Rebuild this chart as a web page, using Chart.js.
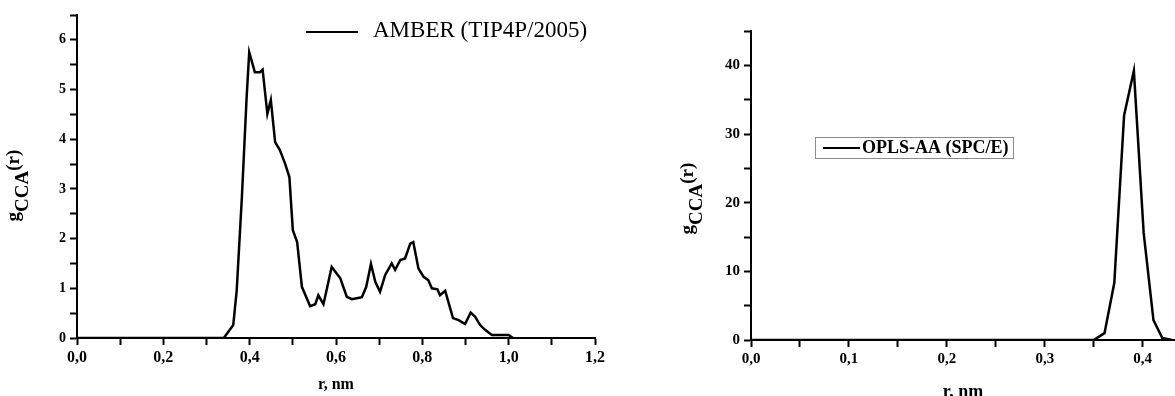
<!DOCTYPE html>
<html>
<head>
<meta charset="utf-8">
<script src="https://cdn.jsdelivr.net/npm/chart.js@4.4.1/dist/chart.umd.min.js"></script>
<style>
  html, body { margin: 0; padding: 0; background: #fff; overflow: hidden; }
  #left { position: absolute; left: 0; top: 0; width: 610px; height: 396px; }
  #right { position: absolute; left: 680px; top: 0; width: 495px; height: 396px; }
</style>
</head>
<body>
<div id="left"><canvas id="amberChart"></canvas></div>
<div id="right"><canvas id="oplsChart"></canvas></div>
<script>
// AMBER (TIP4P/2005) g_CCA(r)
const amberR = [0, 0.34, 0.351, 0.362, 0.37, 0.382, 0.393, 0.399, 0.412, 0.424, 0.430, 0.441, 0.449, 0.459, 0.470,
  0.482, 0.492, 0.500, 0.510, 0.521, 0.540, 0.552, 0.559, 0.571, 0.590, 0.610, 0.625, 0.637, 0.648, 0.660,
  0.670, 0.681, 0.691, 0.702, 0.714, 0.729, 0.737, 0.749, 0.760, 0.772, 0.779, 0.791, 0.803, 0.814, 0.822,
  0.835, 0.841, 0.853, 0.871, 0.884, 0.899, 0.912, 0.922, 0.934, 0.946, 0.961, 0.980, 1.000, 1.010];
const amberG = [0, 0, 0.13, 0.26, 0.96, 2.84, 4.85, 5.75, 5.35, 5.35, 5.40, 4.51, 4.79, 3.94, 3.78,
  3.51, 3.24, 2.17, 1.93, 1.03, 0.64, 0.68, 0.86, 0.68, 1.43, 1.20, 0.83, 0.78, 0.80, 0.82,
  1.03, 1.49, 1.13, 0.93, 1.27, 1.50, 1.37, 1.57, 1.60, 1.90, 1.93, 1.40, 1.23, 1.16, 1.00,
  0.98, 0.86, 0.95, 0.40, 0.36, 0.28, 0.51, 0.43, 0.26, 0.16, 0.06, 0.06, 0.06, 0];

// OPLS-AA (SPC/E) g_CCA(r), right panel
const oplsR = [0, 0.35, 0.361, 0.371, 0.381, 0.391, 0.401, 0.411, 0.42, 0.43];
const oplsG = [0, 0, 1.0, 8.3, 32.7, 39.2, 15.6, 2.9, 0.3, 0];

const amberLabel = 'AMBER (TIP4P/2005)';
const oplsLabel = 'OPLS-AA (SPC/E)';
const xTitle = 'r, nm';
const yTitleParts = ['g', 'CCA', '(r)'];

const SERIF = "'Liberation Serif', 'Times New Roman', serif";

function toPoints(xs, ys) {
    return xs.map((x, i) => ({ x: x, y: ys[i] }));
}

// comma decimal like the original figure
function commaLabel(v, digits) {
    return v.toFixed(digits).replace('.', ',');
}

// rotated "g_CCA(r)" with a subscript
const gLabelPlugin = {
    id: 'gLabel',
    afterDraw(chart, args, opts) {
        const ctx = chart.ctx;
        const area = chart.chartArea;
        const cy = (area.top + area.bottom) / 2 + opts.dy;
        ctx.save();
        ctx.font = 'bold ' + opts.size + 'px ' + SERIF;
        ctx.fillStyle = '#000';
        ctx.textBaseline = 'alphabetic';
        const widths = yTitleParts.map(t => ctx.measureText(t).width);
        const total = widths.reduce((a, b) => a + b, 0);
        ctx.translate(opts.x, cy);
        ctx.rotate(-Math.PI / 2);
        let pos = -total / 2;
        yTitleParts.forEach((t, i) => {
            ctx.fillText(t, pos, i === 1 ? opts.sub : 0);
            pos += widths[i];
        });
        ctx.restore();
    }
};

// simple legend placed where the original has it
const placedLegendPlugin = {
    id: 'placedLegend',
    afterDraw(chart, args, opts) {
        const ctx = chart.ctx;
        const ds = chart.data.datasets[0];
        ctx.save();
        if (opts.box) {
            ctx.strokeStyle = '#8a8a8a';
            ctx.lineWidth = 1;
            ctx.strokeRect(opts.box[0] + 0.5, opts.box[1] + 0.5, opts.box[2], opts.box[3]);
        }
        ctx.strokeStyle = ds.borderColor;
        ctx.lineWidth = 2;
        ctx.beginPath();
        ctx.moveTo(opts.line[0], opts.line[2]);
        ctx.lineTo(opts.line[1], opts.line[2]);
        ctx.stroke();
        ctx.font = opts.font;
        ctx.fillStyle = '#000';
        ctx.textBaseline = 'middle';
        ctx.fillText(ds.label, opts.textX, opts.textY);
        ctx.restore();
    }
};

function makeChart(id, cfg) {
    return new Chart(document.getElementById(id), {
        type: 'line',
        data: {
            datasets: [{
                label: cfg.label,
                data: toPoints(cfg.xs, cfg.ys),
                borderColor: '#000',
                borderWidth: 2.5,
                pointRadius: 0,
                tension: 0,
                fill: false
            }]
        },
        options: {
            animation: false,
            responsive: true,
            maintainAspectRatio: false,
            layout: { padding: { top: cfg.padTop, right: cfg.padRight, left: 0, bottom: 0 } },
            plugins: {
                legend: { display: false },
                tooltip: { enabled: false },
                gLabel: cfg.gLabel,
                placedLegend: cfg.legend
            },
            scales: {
                x: {
                    type: 'linear',
                    min: 0,
                    max: cfg.xMax,
                    afterFit: s => { s.height = cfg.xHeight; },
                    ticks: {
                        stepSize: cfg.xStep / 2,
                        includeBounds: false,
                        autoSkip: false,
                        maxRotation: 0,
                        color: '#000',
                        padding: 3,
                        font: { family: SERIF, size: cfg.xTickSize, weight: 'bold' },
                        callback: v => Math.round(v / (cfg.xStep / 2)) % 2 === 0 ? commaLabel(v, 1) : ''
                    },
                    grid: { drawOnChartArea: false, drawTicks: true, tickLength: 7, tickColor: '#000', tickWidth: 2 },
                    border: { display: true, color: '#000', width: 2 },
                    title: {
                        display: true,
                        text: xTitle,
                        color: '#000',
                        font: { family: SERIF, size: cfg.xTitleSize, weight: 'bold' },
                        padding: { top: 0, bottom: cfg.xTitlePad }
                    }
                },
                y: {
                    type: 'linear',
                    min: 0,
                    max: cfg.yMax,
                    afterFit: s => { s.width = cfg.yWidth; },
                    ticks: {
                        stepSize: cfg.yStep / 2,
                        autoSkip: false,
                        color: '#000',
                        padding: 4,
                        font: { family: SERIF, size: cfg.yTickSize, weight: 'bold' },
                        callback: v => Math.round(v / (cfg.yStep / 2)) % 2 === 0 ? String(v) : ''
                    },
                    grid: { drawOnChartArea: false, drawTicks: true, tickLength: 7, tickColor: '#000', tickWidth: 2 },
                    border: { display: true, color: '#000', width: 2 }
                }
            }
        },
        plugins: [gLabelPlugin, placedLegendPlugin]
    });
}

makeChart('amberChart', {
    label: amberLabel,
    xs: amberR, ys: amberG,
    xMax: 1.2, xStep: 0.2,
    yMax: 6.5, yStep: 1,
    padTop: 15, padRight: 15,
    xHeight: 58, yWidth: 77,
    xTickSize: 16, yTickSize: 14, xTitleSize: 16, xTitlePad: 2,
    gLabel: { x: 19, dy: 9, size: 19, sub: 9 },
    legend: { line: [306, 358, 32], textX: 373, textY: 31, font: '23px ' + SERIF }
});

makeChart('oplsChart', {
    label: oplsLabel,
    xs: oplsR, ys: oplsG,
    xMax: 0.433, xStep: 0.1,
    yMax: 45, yStep: 10,
    padTop: 31, padRight: 0,
    xHeight: 56, yWidth: 71,
    xTickSize: 15, yTickSize: 15, xTitleSize: 18, xTitlePad: -7,
    gLabel: { x: 13, dy: 13, size: 19, sub: 9 },
    legend: { box: [135, 137, 198, 21], line: [143, 180, 148], textX: 182, textY: 148, font: 'bold 18px ' + SERIF }
});
</script>
</body>
</html>
